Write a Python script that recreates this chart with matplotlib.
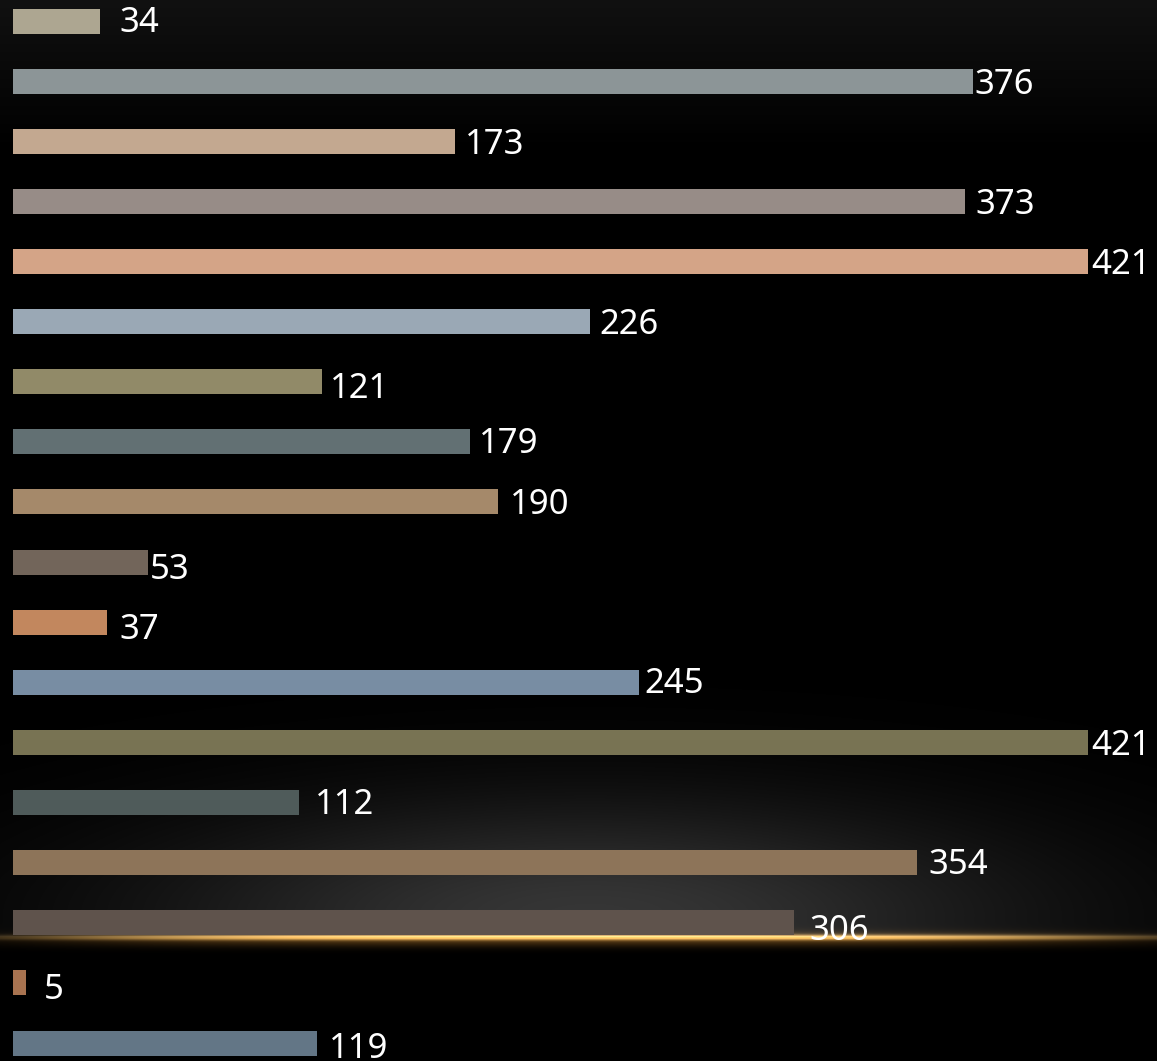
import numpy as np
import matplotlib
matplotlib.use("Agg")
import matplotlib.pyplot as plt

# bar values, top to bottom
values = [34, 376, 173, 373, 421, 226, 121, 179, 190, 53, 37, 245, 421, 112, 354, 306, 5, 119]
labels = [str(v) for v in values]
colors = [
    "#ada691", "#8c9597", "#c3a890", "#978c87", "#d4a487", "#9aa8b5",
    "#918a68", "#627073", "#a5896a", "#72655a", "#c2875e", "#788da3",
    "#787353", "#4f5b5a", "#8d7459", "#5f534c", "#a87350", "#637686",
]
# label nudges in pixels (gap after bar end, shift down from bar centre)
label_dx = [20, 1, 10, 10, 3, 9, 8, 9, 12, 1, 12, 6, 3, 16, 12, 15, 18, 12]
label_dy = [-1, 0, 0, 0, 0, 0, 4, -1, 0, 4, 4, -2, 0, -1, -1, 5, 4, 2]

W, H = 1157, 1061
fig = plt.figure(figsize=(W / 100, H / 100), dpi=100)
fig.patch.set_facecolor("black")

# background: dark top fade, grey glow, golden horizon line
yy, xx = np.mgrid[0:H, 0:W].astype(float)
bg = np.zeros((H, W, 3))
bg += (0.066 * np.clip(1 - yy / 150, 0, 1))[..., None]
glow = 0.21 * np.exp(-((xx - 590) / 440) ** 2 - ((yy - 915) / 115) ** 2)
glow[yy > 936] = 0
bg += glow[..., None]
line_y = 937
xfade = np.exp(-((xx - 590) / 540) ** 4)
core = np.exp(-((yy - line_y) / 2.6) ** 2) * xfade
halo = np.exp(-((yy - line_y - 2) / 7) ** 2) * xfade
bg += core[..., None] * np.array([0.82, 0.66, 0.38])
bg += halo[..., None] * np.array([0.3, 0.2, 0.07])
bg = np.clip(bg, 0, 1)

ax_bg = fig.add_axes([0, 0, 1, 1], zorder=0)
ax_bg.imshow(bg, extent=(0, W, H, 0), aspect="auto")
ax_bg.axis("off")

ax = fig.add_axes([0, 0, 1, 1], zorder=1)
ax.patch.set_alpha(0)
px_per_unit = 1075 / 421
pitch = 60.12
ax.set_xlim(-13 / px_per_unit, (W - 13) / px_per_unit)
ax.set_ylim((H - 21) / pitch, -21 / pitch)
ax.axis("off")

ypos = np.arange(len(values))
ax.barh(ypos, values, height=25 / pitch, color=colors, left=0)

for i, v in enumerate(values):
    ax.annotate(labels[i], xy=(v, i), xytext=(label_dx[i], -(12.5 + label_dy[i])),
                textcoords="offset pixels", ha="left", va="baseline",
                color="white", fontsize=25, family=["Noto Sans", "DejaVu Sans"])

fig.savefig("out.png", dpi=100, facecolor="black")
